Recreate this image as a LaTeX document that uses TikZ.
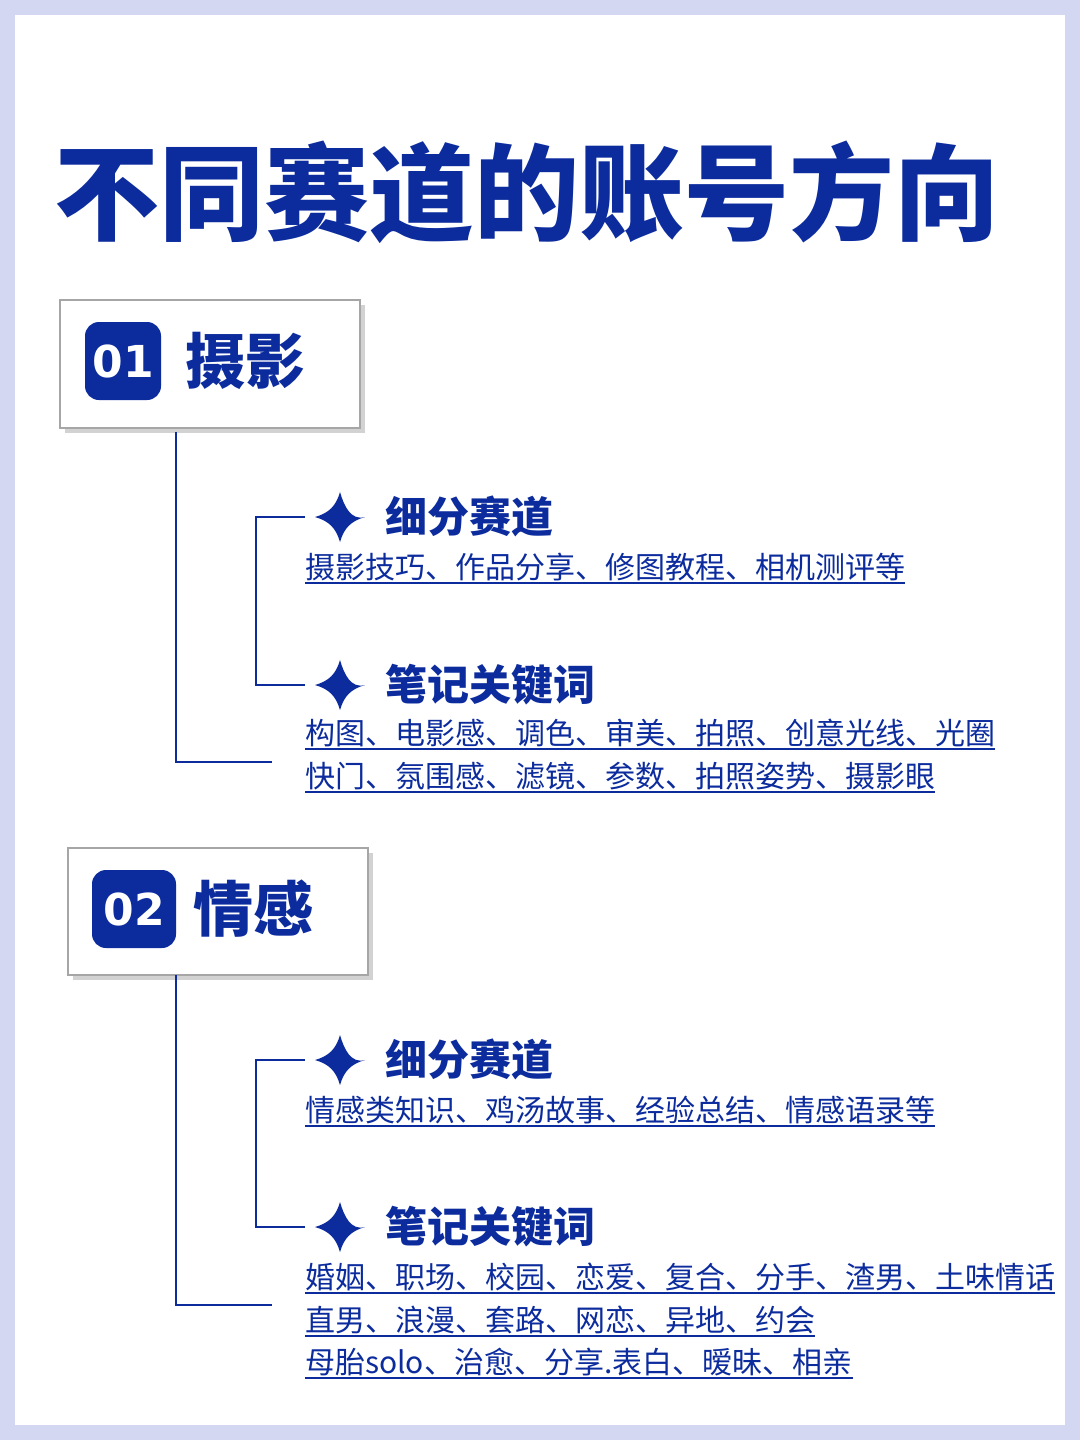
\documentclass[tikz,border=0pt]{standalone}
\usepackage{fontspec}
\newfontfamily\cjk{Noto Sans CJK SC}
\definecolor{bl}{HTML}{0C2C9E}
\definecolor{bg}{HTML}{D3D7F2}
\tikzset{
 hd/.style={font=\cjk\bfseries\fontsize{42}{42}\selectfont,text=bl,anchor=base west,inner sep=0},
 tx/.style={font=\cjk\fontsize{30}{30}\selectfont,text=bl,anchor=base west,inner sep=0},
 ln/.style={draw=bl,line width=2.4pt},
 card/.style={draw=gray!70,fill=white,line width=1.2pt},
 badge/.style={fill=bl,rounded corners=14pt,text=white,font=\fontspec{DejaVu Sans}\bfseries\fontsize{44}{44}\selectfont},
 big/.style={font=\cjk\bfseries\fontsize{60}{60}\selectfont,text=bl,anchor=west,inner sep=0}
}
\newcommand{\ul}[1]{\draw[bl,line width=1.3pt] ([yshift=-5pt]#1.base west) -- ([yshift=-5pt]#1.base east);}
\newcommand{\spk}[2]{\fill[bl] (#1,#2) ++(0,-25) .. controls ++(4,14) and ++(-14,4) .. ++(25,25) .. controls ++(-14,4) and ++(4,-14) .. ++(-25,25) .. controls ++(-4,-14) and ++(14,4) .. ++(-25,-25) .. controls ++(14,-4) and ++(-4,14) .. cycle;}
\begin{document}
\begin{tikzpicture}[x=1pt,y=-1pt]
\fill[bg] (0,0) rectangle (1080,1440);
\fill[white] (15,15) rectangle (1065,1425);
\node[font=\cjk\bfseries\fontsize{105}{105}\selectfont,text=bl,inner sep=0] (title) at (527,192) {不同赛道的账号方向};
% section 1
\fill[gray!35] (65,305) rectangle (365,433);
\draw[card] (60,300) rectangle (360,428);
\node[badge,minimum width=76pt,minimum height=78pt] (b1) at (123,361) {01};
\node[big] (h1) at (185,361) {摄影};
\draw[ln] (176,432) -- (176,762) -- (272,762);
\draw[ln] (305,517) -- (256,517) -- (256,685) -- (305,685);
\spk{340}{517}
\spk{340}{685}
\node[hd] (a1) at (385,532) {细分赛道};
\node[hd] (a2) at (385,700) {笔记关键词};
\node[tx] (t1) at (305,578) {摄影技巧、作品分享、修图教程、相机测评等};\ul{t1}
\node[tx] (t2) at (305,744) {构图、电影感、调色、审美、拍照、创意光线、光圈};\ul{t2}
\node[tx] (t3) at (305,787) {快门、氛围感、滤镜、参数、拍照姿势、摄影眼};\ul{t3}
% section 2
\fill[gray!35] (73,853) rectangle (373,980);
\draw[card] (68,848) rectangle (368,975);
\node[badge,minimum width=84pt,minimum height=78pt] (b2) at (134,909) {02};
\node[big] (h2) at (193,909) {情感};
\draw[ln] (176,975) -- (176,1305) -- (272,1305);
\draw[ln] (305,1060) -- (256,1060) -- (256,1227) -- (305,1227);
\spk{340}{1060}
\spk{340}{1227}
\node[hd] (c1) at (385,1075) {细分赛道};
\node[hd] (c2) at (385,1242) {笔记关键词};
\node[tx] (u1) at (305,1121) {情感类知识、鸡汤故事、经验总结、情感语录等};\ul{u1}
\node[tx] (u2) at (305,1288) {婚姻、职场、校园、恋爱、复合、分手、渣男、土味情话};\ul{u2}
\node[tx] (u3) at (305,1331) {直男、浪漫、套路、网恋、异地、约会};\ul{u3}
\node[tx] (u4) at (305,1373) {母胎solo、治愈、分享.表白、暧昧、相亲};\ul{u4}
\end{tikzpicture}
\end{document}
